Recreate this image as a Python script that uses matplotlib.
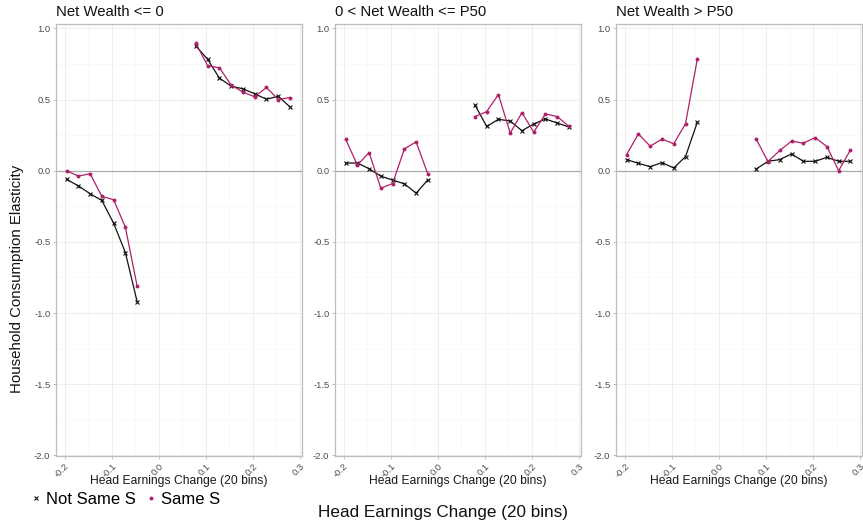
import matplotlib
matplotlib.use("Agg")
import matplotlib.pyplot as plt
from matplotlib.lines import Line2D
import numpy as np

plt.rcParams['font.family'] = ['Liberation Sans', 'DejaVu Sans']

# bin positions (20 bins)
bins = [-0.196 + 0.025 * k for k in range(20)]
nan = np.nan

titles = ["Net Wealth <= 0", "0 < Net Wealth <= P50", "Net Wealth > P50"]

# Not Same S (black)
not_same = [
    [-0.061, -0.106, -0.162, -0.209, -0.369, -0.575, -0.920, nan, nan, nan, nan,
     0.876, 0.782, 0.650, 0.594, 0.575, 0.540, 0.502, 0.523, 0.448],
    [0.054, 0.054, 0.014, -0.038, -0.066, -0.092, -0.158, -0.064, nan, nan, nan,
     0.462, 0.311, 0.361, 0.349, 0.281, 0.328, 0.363, 0.335, 0.307],
    [0.078, 0.052, 0.028, 0.057, 0.019, 0.099, 0.340, nan, nan, nan, nan,
     0.012, 0.066, 0.078, 0.118, 0.066, 0.066, 0.094, 0.066, 0.066],
]
# Same S (pink)
same = [
    [0.000, -0.038, -0.021, -0.180, -0.204, -0.397, -0.810, nan, nan, nan, nan,
     0.894, 0.737, 0.723, 0.601, 0.552, 0.519, 0.585, 0.500, 0.514],
    [0.222, 0.040, 0.127, -0.123, -0.090, 0.153, 0.203, -0.024, nan, nan, nan,
     0.380, 0.415, 0.535, 0.264, 0.408, 0.271, 0.399, 0.380, 0.311],
    [0.113, 0.259, 0.172, 0.222, 0.189, 0.330, 0.784, nan, nan, nan, nan,
     0.222, 0.064, 0.142, 0.208, 0.193, 0.233, 0.170, 0.000, 0.146],
]

xticks = [-0.2, -0.1, 0.0, 0.1, 0.2, 0.3]
xtick_labels = ["-0.2", "-0.1", "0.0", "0.1", "0.2", "0.3"]
yticks = [-2.0, -1.5, -1.0, -0.5, 0.0, 0.5, 1.0]
ytick_labels = ["-2.0", "-1.5", "-1.0", "-0.5", "0.0", "0.5", "1.0"]

BLACK = '#111111'
PINK = '#B01F6A'
W, H = 863, 520
fig = plt.figure(figsize=(W / 100, H / 100), dpi=100)

panels_px = [(56, 245.5), (335, 245.5), (616, 246)]
top_px, bot_px = 23.5, 456.0

for i, (lx, wpx) in enumerate(panels_px):
    ax = fig.add_axes([lx / W, (H - bot_px) / H, wpx / W, (bot_px - top_px) / H])
    ax.set_xlim(-0.2185, 0.3035)
    ax.set_ylim(-2.004, 1.034)
    ax.set_xticks(xticks)
    ax.set_xticklabels(xtick_labels, rotation=45, ha='right', rotation_mode='anchor')
    ax.set_yticks(yticks)
    ax.set_yticklabels(ytick_labels)
    ax.set_xticks([-0.15, -0.05, 0.05, 0.15, 0.25], minor=True)
    ax.set_yticks([-1.75, -1.25, -0.75, -0.25, 0.25, 0.75], minor=True)
    ax.grid(which='major', color='#EBEBEB', linewidth=0.6)
    ax.grid(which='minor', color='#F5F5F5', linewidth=0.4)
    ax.set_axisbelow(True)
    ax.tick_params(which='major', length=2.5, width=0.6, color='#B3B3B3',
                   labelsize=6.8, labelcolor='#4D4D4D', pad=1.5)
    ax.tick_params(which='minor', length=0)
    for s in ax.spines.values():
        s.set_color('#BDBDBD')
        s.set_linewidth(0.9)
    ax.axhline(0, color='#AAAAAA', linewidth=0.9, zorder=1)
    ax.plot(bins, not_same[i], color=BLACK, linewidth=0.9, marker='x',
            markersize=3.2, markeredgewidth=0.8, zorder=3)
    ax.plot(bins, same[i], color=PINK, linewidth=0.9, marker='o',
            markersize=2.8, markeredgewidth=0, zorder=4)
    fig.text((lx + wpx / 2) / W, (H - 481) / H, "Head Earnings Change (20 bins)",
             fontsize=8.75, color='#1A1A1A', ha='center', va='center')
    fig.text(lx / W, (H - 12) / H, titles[i], fontsize=10.7, ha='left', va='center', color='#111111')

fig.text(17 / W, (H - 279) / H, "Household Consumption Elasticity", rotation=90,
         fontsize=10.8, ha='center', va='center', color='#111111')
fig.text(442.5 / W, (H - 512) / H, "Head Earnings Change (20 bins)",
         fontsize=12.3, ha='center', va='center', color='#111111')

handles = [Line2D([], [], color=BLACK, marker='x', linestyle='none', markersize=3, markeredgewidth=0.8),
           Line2D([], [], color=PINK, marker='o', linestyle='none', markersize=2.8, markeredgewidth=0)]
fig.legend(handles, ["Not Same S", "Same S"], loc='center left',
           bbox_to_anchor=(31 / W, (H - 499) / H), ncol=2, frameon=False,
           fontsize=12, handlelength=0.6, handletextpad=0.3, columnspacing=0.6,
           borderaxespad=0, borderpad=0)

fig.savefig("out.png", dpi=100)
